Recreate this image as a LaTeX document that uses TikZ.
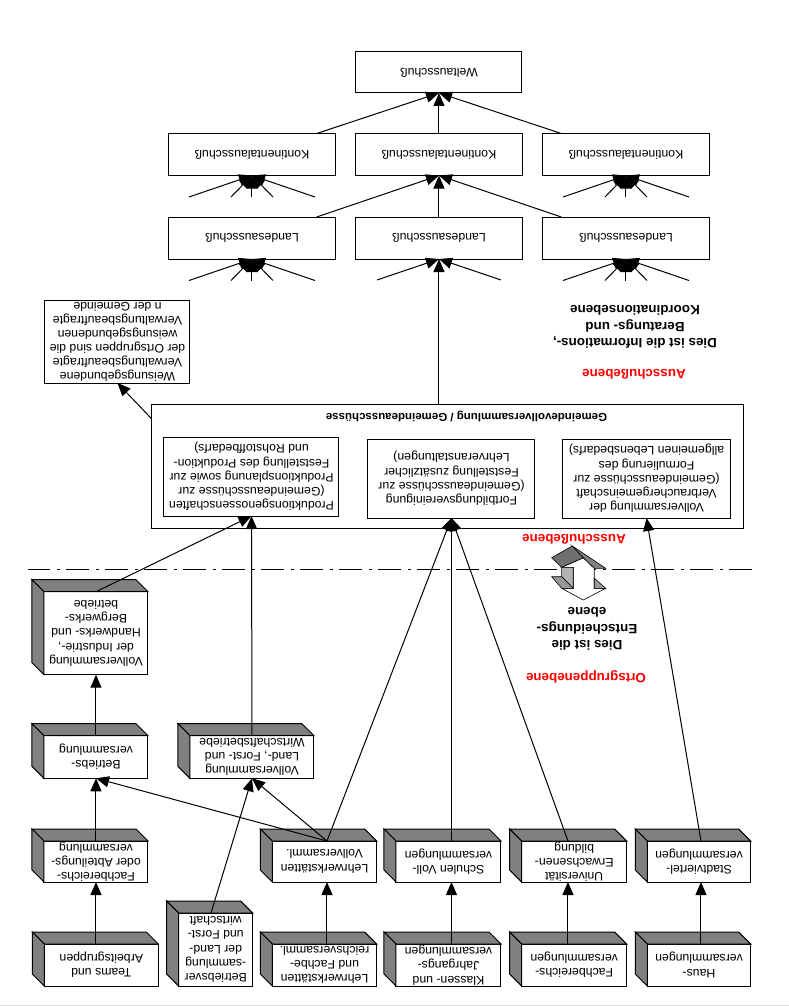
\documentclass[tikz,border=0pt]{standalone}
\usepackage{fontspec}
\setmainfont{Liberation Sans}
\usetikzlibrary{arrows.meta,calc}
\definecolor{cubegrey}{HTML}{808080}
\definecolor{darkroof}{HTML}{707070}
\definecolor{lightside}{HTML}{B2B2B2}
\definecolor{midside}{HTML}{999999}
\tikzset{
    pfeil/.style={-{Triangle[length=13pt,width=11pt]}},
    box/.style={draw, fill=white, inner sep=0pt, outer sep=0pt, align=center, font=\fontsize{12.3}{14.3}\selectfont},
    ausschuss/.style={box, minimum width=167pt, minimum height=42pt},
    sized/.style 2 args={box, minimum width=#1, minimum height=#2},
    face/.style={draw, fill=cubegrey},
    label/.style={align=center, inner sep=0pt, font=\fontsize{13.4}{16.5}\selectfont\bfseries},
    rotlabel/.style={label, text=red}
}
% the grey faces of a cube, the front being the node
\newcommand{\cubefaces}[1]{
    \path[face] (#1.south east) -- (#1.south west) -- ($(#1.south west)+(12,-12)$) -- ($(#1.south east)+(12,-12)$) -- cycle;
    \path[face] (#1.south east) -- (#1.north east) -- ($(#1.north east)+(12,-12)$) -- ($(#1.south east)+(12,-12)$) -- cycle;
}
\begin{document}
\begin{tikzpicture}[rotate=180, transform shape, x=1pt, y=1pt, line width=1pt]
    \useasboundingbox (0,0) rectangle (789,1006);
    \draw[color=black!15] (0,1005) -- (789,1005);

    % ausschussebene
    \node[sized={166pt}{41pt}] (welt) at (350,72.5) {Weltausschuß};
    \node[ausschuss] (kont1) at (537,154.5) {Kontinentalausschuß};
    \node[ausschuss] (kont2) at (350,154.5) {Kontinentalausschuß};
    \node[ausschuss] (kont3) at (163,154.5) {Kontinentalausschuß};
    \node[ausschuss] (land1) at (537,238) {Landesausschuß};
    \node[ausschuss] (land2) at (350,238) {Landesausschuß};
    \node[ausschuss] (land3) at (163,238) {Landesausschuß};
    \node[sized={145pt}{83pt}, font=\fontsize{12.3}{14}\selectfont] (weisung) at (671.5,341.5) {Weisungsgebundene\\Verwaltungsbeauftragte\\der Ortsgruppen sind die\\weisungsgebundenen\\Verwaltungsbeauftragte\\n der Gemeinde};
    \node[sized={591pt}{124pt}] (gemeinde) at (341.5,466) {};
    \node[label, font=\fontsize{11.5}{14}\selectfont\bfseries] (gemeindetitel) at (322.5,416) {Gemeindevollversammlung / Gemeindeausschüsse};
    \node[sized={175pt}{79pt}] (prod) at (537.5,476.5) {Produktionsgenossenschaften\\(Gemeindeausschüsse zur\\Produktionsplanung sowie zur\\Feststellung des Produktion-\\und Rohstoffbedarfs)};
    \node[sized={167pt}{79pt}] (fort) at (337.5,478.5) {Fortbildungsvereinigung\\(Gemeindeausschüsse zur\\Feststellung zusätzlicher\\Lehrveranstaltungen)};
    \node[sized={167pt}{79pt}] (verb) at (142.5,478.5) {Vollversammlung der\\Verbrauchergemeinschaft\\(Gemeindeausschüsse zur\\Formulierung des\\allgemeinen Lebensbedarfs)};

    \node[rotlabel] (lblaus) at (155,374) {Ausschußebene};
    \node[label] (lblinfo) at (154,327) {Dies ist die Informations-,\\Beratungs- und\\Koordinationsebene};
    \node[rotlabel] (lblaus2) at (215,539) {Ausschußebene};
    \node[label] (lblents) at (202,629) {Dies ist die\\Entscheidungs-\\ebene};
    \node[rotlabel] (lblort) at (203,677) {Ortsgruppenebene};

    % trennlinie und doppelpfeil
    \draw[dash pattern=on 23pt off 6pt on 3pt off 7pt] (37,569.5) -- (761,569.5);
    \draw[line width=0.6pt, fill=white] (205.7,557.7) -- (194.7,568.3) -- (194.7,588.3) -- (183.3,588.3) -- (205.7,600) -- (227.3,588.3) -- (215.7,588.3) -- (215.7,567.3) -- (227.3,567.3) -- cycle;
    \draw[line width=0.6pt, fill=lightside] (227.3,567.3) -- (215.7,567.3) -- (215.7,588.3) -- (227.3,576.7) -- cycle;
    \draw[line width=0.6pt, fill=midside] (237.3,576.7) -- (227.3,576.7) -- (215.7,588.3) -- (227.3,588.3) -- cycle;
    \draw[line width=0.6pt, fill=midside] (194.7,578.3) -- (183.3,588.3) -- (194.7,588.3) -- cycle;
    \draw[line width=0.6pt, fill=darkroof] (237.3,557.7) -- (216.7,546) -- (205.7,557.7) -- (227.3,567.3) -- cycle;
    \draw[line width=0.6pt, fill=cubegrey] (216.7,546) -- (183.3,568.3) -- (194.7,568.3) -- (205.7,557.7) -- cycle;

    % ortsgruppenebene
    \node[sized={104pt}{83pt}] (industrie) at (693,633.2) {Vollversammlung\\der Industrie-,\\Handwerks- und\\Bergwerks-\\betriebe};
    \node[sized={104pt}{42.6pt}] (betriebs) at (693,757) {Betriebs-\\versammlung};
    \node[sized={124pt}{42.6pt}] (landforst) at (537,757) {Vollversammlung\\Land-, Forst- und\\Wirtschaftsbetriebe};
    \node[sized={104pt}{41pt}] (fachabt) at (693,861.5) {Fachbereichs-\\oder Abteilungs-\\versammlung};
    \node[sized={104.4pt}{41pt}] (lehrw2) at (464.5,861.5) {Lehrwerkstätten\\Vollversamml.};
    \node[sized={105pt}{41pt}] (schulen) at (340.5,861.5) {Schulen Voll-\\versammlungen};
    \node[sized={105pt}{41pt}] (univ) at (214.8,861.5) {Universität\\Erwachsenen-\\bildung};
    \node[sized={103.4pt}{41pt}] (stadt) at (90,861.5) {Stadtviertel-\\versammlungen};
    \node[sized={114pt}{42pt}] (teams) at (687.7,965) {Teams und\\Arbeitsgruppen};
    \node[sized={74pt}{73pt}] (betriebsver) at (573.3,949.5) {Betriebsver\\-sammlung\\der Land-\\und Forst-\\wirtschaft};
    \node[sized={104.4pt}{42pt}] (lehrw1) at (464.5,965) {Lehrwerkstätten\\und Fachbe-\\reichsversamml.};
    \node[sized={105pt}{42pt}] (klassen) at (340.5,965) {Klassen- und\\Jahrgangs-\\versammlungen};
    \node[sized={105pt}{42pt}] (fachb) at (214.8,965) {Fachbereichs-\\versammlungen};
    \node[sized={103.4pt}{42pt}] (haus) at (90,965) {Haus-\\versammlungen};
    \foreach \n in {industrie,betriebs,landforst,fachabt,lehrw2,schulen,univ,stadt,teams,betriebsver,lehrw1,klassen,fachb,haus}
        {\cubefaces{\n}}

    % kleine pfeile von unten
    \foreach \n in {kont1,kont3,land1,land3}
        \foreach \dx in {-63,-21,0,21,63}
        {
            \coordinate (\n-\dx) at ($(\n.north)+(\dx,21.5)$);
            \draw[pfeil] (\n-\dx) -- (\n.north);
        }
    \foreach \dx in {-62,62}
    {
        \coordinate (land2-\dx) at ($(land2.north)+(\dx,21)$);
        \draw[pfeil] (land2-\dx) -- (land2.north);
    }

    % verbindungen
    \draw[pfeil] (kont1.198.4) -- (welt.north);
    \draw[pfeil] (kont2.south) -- (welt.north);
    \draw[pfeil] (kont3.-18.4) -- (welt.north);
    \draw[pfeil] (land1.198.4) -- (kont2.north);
    \draw[pfeil] (land2.south) -- (kont2.north);
    \draw[pfeil] (land3.-18.4) -- (kont2.north);
    \draw[pfeil] (gemeinde.south -| land2.north) -- (land2.north);
    \draw[pfeil] (gemeinde.351.8) -- (weisung.north);

    \draw[pfeil] (industrie.south) -- (prod.north);
    \draw[pfeil] (landforst.south) -- (prod.north);
    \draw[pfeil] ([xshift=-2.5pt]lehrw2.south) -- (fort.north);
    \draw[pfeil] (schulen.south -| fort.north) -- (fort.north);
    \draw[pfeil] ([xshift=6.2pt]univ.south) -- (fort.north);
    \draw[pfeil] ([xshift=-2pt]stadt.south) -- (verb.north);

    \draw[pfeil] (betriebs.south) -- (industrie.north);
    \draw[pfeil] (fachabt.south) -- (betriebs.north);
    \draw[pfeil] ([xshift=-2.5pt]lehrw2.south) -- (betriebs.north);
    \draw[pfeil] ([xshift=-2.5pt]lehrw2.south) -- (landforst.north);
    \draw[pfeil] ([xshift=4.7pt]betriebsver.south) -- (landforst.north);

    \draw[pfeil] (teams.south -| fachabt.north) -- (fachabt.north);
    \draw[pfeil] ([xshift=-2.5pt]lehrw1.south) -- ([xshift=-2.5pt]lehrw2.north);
    \draw[pfeil] (klassen.south -| fort.north) -- (fort.north |- schulen.north);
    \draw[pfeil] ([xshift=6.2pt]fachb.south) -- ([xshift=6.2pt]univ.north);
    \draw[pfeil] ([xshift=-2pt]haus.south) -- ([xshift=-2pt]stadt.north);
\end{tikzpicture}
\end{document}
